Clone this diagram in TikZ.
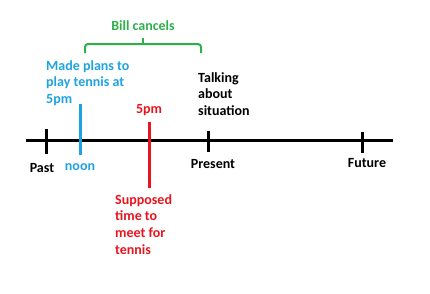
\documentclass[tikz,border=0pt]{standalone}
\usepackage{fontspec}
\setmainfont{Carlito}
\definecolor{tblue}{HTML}{1FA3E0}
\definecolor{tred}{HTML}{E8141E}
\definecolor{tgreen}{HTML}{2DB04B}
\begin{document}
\begin{tikzpicture}[x=1pt,y=-1pt,
  lbl/.style={font=\bfseries\fontsize{14}{16.7}\selectfont, inner sep=0pt, align=left},
  tick/.style={line width=3pt},
  axisline/.style={line width=3pt}]
\useasboundingbox (0,0) rectangle (430,293);
% axis
\coordinate (aL) at (26,140);
\coordinate (aR) at (393,140);
\draw[axisline] (aL) -- (aR);
% ticks
\coordinate (pastT) at (46,129); \coordinate (pastB) at (46,154);
\coordinate (presT) at (208,131); \coordinate (presB) at (208,152);
\coordinate (futT) at (362,132); \coordinate (futB) at (362,153);
\draw[tick] (pastT) -- (pastB);
\draw[tick] (presT) -- (presB);
\draw[tick] (futT) -- (futB);
% blue noon line
\coordinate (noonT) at (80,104); \coordinate (noonB) at (80,155);
\draw[tick, tblue] (noonT) -- (noonB);
% red 5pm line
\coordinate (redT) at (149,122); \coordinate (redB) at (149,188);
\draw[tick, tred] (redT) -- (redB);
% labels
\node[lbl] (past) at (42,168) {Past};
\node[lbl, text=tblue] (noon) at (80,167) {noon};
\node[lbl] (present) at (213,164) {Present};
\node[lbl] (future) at (367,163) {Future};
\node[lbl, text=tred] (fivepm) at (149,110) {5pm};
\node[lbl, text=tblue, anchor=north west] (plans) at (46,60) {Made plans to\\play tennis at\\5pm};
\node[lbl, anchor=north west] (talk) at (198,72) {Talking\\about\\situation};
\node[lbl, text=tred, anchor=north west] (supposed) at (115,194) {Supposed\\time to\\meet for\\tennis};
% brace
\node[lbl, text=tgreen] (bill) at (143,26) {Bill cancels};
\coordinate (brL) at (85,53);
\coordinate (brR) at (201,53);
\coordinate (brM) at (143,44);
\coordinate (brTip) at (143,38);
\draw[tgreen, line width=2pt, rounded corners=3pt] (brL) -- (85,44) -- (201,44) -- (brR);
\draw[tgreen, line width=2pt] (brM) -- (brTip);
\end{tikzpicture}
\end{document}
